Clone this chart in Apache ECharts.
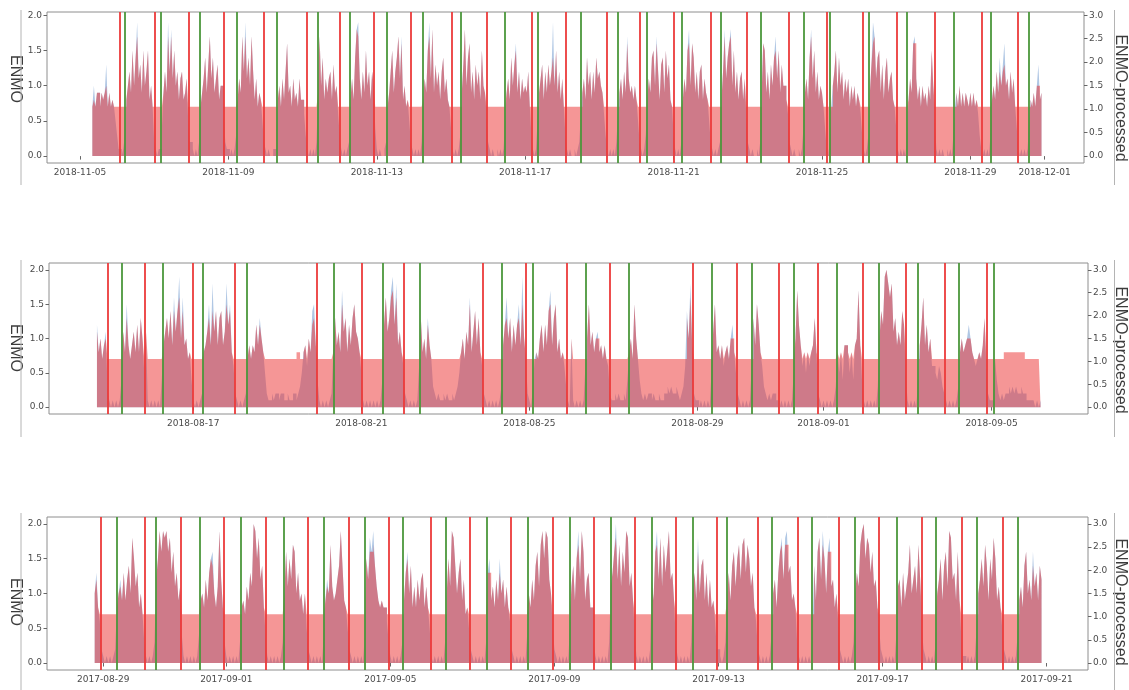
<!DOCTYPE html>
<html>
<head>
<meta charset="utf-8">
<script src="https://cdn.jsdelivr.net/npm/echarts@6/dist/echarts.min.js"></script>
<style>
  html, body { margin: 0; padding: 0; background: #ffffff; }
  #chart { width: 1129px; height: 690px; }
</style>
</head>
<body>
<div id="chart"></div>
<script>
// Hourly activity levels, one string per calendar day (24 hours, grouped by 6).
// Each character is a level index into LEVELS; '.' means no recording.
// ENMO levels are 0.1 g apart, ENMO-processed levels are 0.15 apart.
const LEVELS = '0123456789ABCDEFGHIJKLMNOPQRSTU';
const ENMO_STEP = 0.1;
const PROC_STEP = 0.15;

// ---- Recording 1: 2018-11-05 .. 2018-11-30 ----
const enmoNov2018 = [
  '...... ..7A79 97989D 797875', '311013 8AC9FA EJBD9F ACF8A7', '210114 9C9JCI BFAC8B C89B52',
  '210102 79BE9D HBE9BD 8AA621', '101013 8B9HCJ BEAHC8 B79852', '101001 138A7B 8CG9A7 B897B8',
  '863101 01029H AE8B9B C8D9A6', '310101 28B8EI JB8C9F AC8CA4', '101001 279CF9 CEHBH8 A78521',
  '010102 8B9FJB I9DAC8 CE9B87', '410101 39DIAE G9C8DA C8FA96', '210100 101015 9B8EAD G9C8B9',
  'A9C731 0159BD 8C9DAC JAF9C8', 'B73101 001012 69B8EA C8C9EB', 'CA9631 010102 69B8C9 HB9A8A',
  '852101 38B9EF AHC8DE 9FBD87', '310102 8B9FIA GE9C8C D8B985', '210101 28CIBE GIAF9C 8BC8B6',
  '210100 1029GF 9C8DAE HBF9DA', 'A86210 100101 49B8EI BF9C8A', '974102 7ACF9E AC8B9B 7A8A79',
  '863101 39DJHB EF9D8C E9BC87', '410101 038B9G HB8A7A 897A8F', 'A51010 100101 03797A 797987',
  '979786 310101 038A8C 9EADGA', 'B8C9B7 410101 015879 7AD89.'
];
const procNov2018 = [
  '...... ..7879 97989A 797877', '777777 8AC9FA EHBD9F ACF8A7', '777777 9C9HCH BFAC8B C89B77',
  '777777 79BE9D HBE9BD 8AA777', '777777 8B9HCH BEAHC8 B79877', '777777 778A7B 8CG9A7 B897B8',
  '877777 77779H AE8B9B C8D9A7', '777777 78B8EI HB8C9F AC8CA7', '777777 779CF9 CEHBG8 A78777',
  '777777 8B9FHB I9DAC8 CE9B87', '777777 79DIAE G9C8DA C8FA97', '777777 777777 9B8EAD F9C8B9',
  'A9C777 7779BD 8C9DAC EAF9C8', 'B77777 777777 79B8EA C8C9EB', 'CA9777 777777 79B8C9 GB9A8A',
  '877777 78B9EF AGC8DE 9FBD87', '777777 8B9FGA GE9C8C D8B987', '777777 78CHBE GHAF9C 8BC8B7',
  '777777 7779GF 9C8DAE FBF9DA', 'A87777 777777 79B8EH BF9C8A', '977777 7ACF9E AC8B9B 7A8A79',
  '877777 79DGHB EF9D8C E9BC87', '777777 778B9G GB8A7A 897A8F', 'A77777 777777 77797A 797987',
  '979787 777777 778A8C 9CACDA', 'B8C9B7 777777 777879 7AA89.'
];
const onsetNov2018 = [
  '11-06 01:54', '11-07 00:30', '11-07 22:30', '11-08 21:12', '11-09 23:00', '11-11 02:54',
  '11-12 00:12', '11-12 22:12', '11-13 22:12', '11-15 00:42', '11-15 23:18', '11-17 04:24',
  '11-18 02:24', '11-19 05:00', '11-20 02:18', '11-21 00:18', '11-22 00:18', '11-22 23:30',
  '11-24 02:42', '11-25 03:18', '11-26 02:36', '11-27 00:36', '11-28 01:12', '11-29 07:36',
  '11-30 06:54'
];
const wakeNov2018 = [
  '11-06 05:06', '11-07 04:24', '11-08 05:36', '11-09 05:36', '11-10 07:30', '11-11 10:00',
  '11-12 06:42', '11-13 06:36', '11-14 05:54', '11-15 06:30', '11-16 11:00', '11-17 08:18',
  '11-18 12:06', '11-19 12:06', '11-20 06:48', '11-21 05:30', '11-22 06:48', '11-23 08:36',
  '11-24 12:24', '11-25 05:18', '11-26 06:30', '11-27 07:06', '11-28 13:30', '11-29 13:24',
  '11-30 14:00'
];
const ticksNov2018 = ['2018-11-05', '2018-11-09', '2018-11-13', '2018-11-17', '2018-11-21',
  '2018-11-25', '2018-11-29', '2018-12-01'];

// ---- Recording 2: 2018-08-14 .. 2018-09-06 ----
const enmoAug2018 = [
  '...... ...... .....C 8A79B3', '101010 14B8F9 79B8C8 DA5B10', '101010 49BDAE 9GBEJA G9A784',
  '101012 89BF9I BE9DE9 BICF86', '210101 279798 C9DA85 211212', '212211 211221 235896 A8EF94',
  '101010 128D9B 8HBD8C 9DFBA8', '510101 010101 4CGBDH JCI9B8', '621010 1016D8 A7D973 212112',
  '121121 2358A7 B9G8BE 9D8621', '010101 0139CG AD8C9C F9JA72', '103787 AC8C9E H9DF8A 786310',
  'A10101 016AF9 B8AB89 797621', '121211 2148A7 FA7421 212212', '112112 232322 321236 EAI921',
  '101010 105BF8 979689 7AC852', '101010 16D9FC 863212 122110', '101010 15AHC9 685868 9D8210',
  '101010 138584 998584 9AH941', '010101 03AECJ KIGIBD 9B9EC5', '101010 49CG9C 8A6654 653210',
  '101013 8A89AC A87678 79D621', '127421 212232 323223 221111', '10101. ...... ...... ......'
];
const procAug2018 = [
  '...... ...... .....B 8A79A7', '777777 77B8D9 79B8C8 DA7B77', '777777 79BDAE 9EBEGA E9A787',
  '777777 89BD9E BE9DE9 BFCE87', '777777 779798 C9CA87 777777', '777777 777778 877897 A8CD97',
  '777777 778D9B 8FBD8C 9DFBA8', '777777 777777 7CGBDG HCG9B8', '777777 7777D8 A7C977 777777',
  '777777 7778A7 B9F8BE 9D8777', '777777 7779CD AD8C9C D9FA77', '777787 AC8C9E F9DF8A 787777',
  'A77777 777AF9 B8AA89 797777', '777777 7778A7 FA7777 777777', '777777 777777 777777 DAG977',
  '777777 777BF8 979789 7AA877', '777777 77D9FC 877777 777777', '777777 77AHC9 787878 9D8777',
  '777777 778787 998787 9AH977', '777777 77AECJ KIGIBD 9B9EC7', '777777 79CG9C 8A7777 777777',
  '777777 8A89AA A87778 79D777', '777777 788888 888888 877777', '77777. ...... ...... ......'
];
const onsetAug2018 = [
  '08-14 22:54', '08-15 20:24', '08-16 23:42', '08-17 23:48', '08-19 22:30', '08-21 00:12',
  '08-22 00:30', '08-23 21:36', '08-24 21:54', '08-25 21:18', '08-26 22:00', '08-28 21:36',
  '08-29 22:24', '08-30 22:12', '08-31 20:42', '09-01 22:24', '09-02 22:54', '09-03 21:00',
  '09-04 21:12'
];
const wakeAug2018 = [
  '08-15 07:06', '08-16 06:18', '08-17 05:42', '08-18 06:48', '08-20 08:00', '08-21 12:30',
  '08-22 09:06', '08-24 08:30', '08-25 02:12', '08-26 08:18', '08-27 08:30', '08-29 08:06',
  '08-30 07:00', '08-31 07:06', '09-01 07:30', '09-02 07:18', '09-03 06:06', '09-04 05:24',
  '09-05 01:24'
];
const ticksAug2018 = ['2018-08-17', '2018-08-21', '2018-08-25', '2018-08-29', '2018-09-01', '2018-09-05'];

// ---- Recording 3: 2017-08-28 .. 2017-09-20 ----
const enmoAug2017 = [
  '...... ...... ...... .AD862', '101010 128AC9 D9CEAI FBD8A7', '310101 3CFJGJ IJGIDG BD9B41',
  '010101 0149A8 C9DFGA 8BJC83', '101010 103897 B9DBKJ FICE84', '101010 1013AG BFCHGA D9A7A5',
  '210101 01049C AHB9AC EJE985', '210101 0104FC IGJEB9 898863', '101010 139DGA E8B8C9 CD8B85',
  '101010 103AFB JIEADF 9C7852', '101010 103DF9 B8C9FA C8B862', '101010 104A8C 9EGBHJ FJICA5',
  '210101 0105BE 9FJCJG 9CD883', '101010 103BDG KCHBGD JIBD94', '101010 102C9G JCIBHD GJCD93',
  '101010 103AD9 IAEF9D 8C8962', '210139 D9EGBF HCHIDH FBD862', '101010 14AC8D GICIJD E9A831',
  '010101 05E9GI CJFAGI BC8A62', '101010 13ADBH JKFIHD GBC852', '101010 104BC8 D9BDHA CEAHC5',
  '210101 03ACF9 EGBJIC D9G941', '101010 15ACFB HE9FCI F9B852', '101010 149B8E GAC9GB D9EC..'
];
const procAug2017 = [
  '...... ...... ...... .AC877', '777777 778AB9 D9CEAI FBD8A7', '777777 7CFJGJ IJGIDG BD9B77',
  '777777 7779A8 C9DFEA 8BJC87', '777777 777897 B9DBKJ FICE87', '777777 7777AG BFCHGA D9A7A7',
  '777777 77779B AHB9AC EJE987', '777777 7777FC GGHEB9 898877', '777777 779DFA E8B8C9 CD8B87',
  '777777 777AFB JIEADF 9C7877', '777777 777DD9 B8C9DA C8B877', '777777 777A8C 9EGBHJ FJICA7',
  '777777 7777BE 9FHCJG 9CD887', '777777 777BDG ICHBGD JIBD97', '777777 777C9G HCIBHD GJCD97',
  '777777 777AD9 GAEF9D 8C8977', '777779 D9EGBF HCHIDH FBD877', '777777 77AC8D GHCHHD E9A877',
  '777777 77E9GI CHFAGG BC8A77', '777777 77ADBH JKFIHD GBC877', '777777 777BC8 D9BDHA CEAHC7',
  '777777 77ACF9 EGBJIC D9G977', '777777 77ACFB HE9FCI F9B877', '777777 779B8E GAC9EB D9EC..'
];
const onsetAug2017 = [
  '08-28 22:30', '08-30 00:24', '08-30 21:30', '08-31 22:36', '09-01 23:00', '09-02 23:24',
  '09-03 23:48', '09-04 23:18', '09-05 23:42', '09-06 22:36', '09-07 22:30', '09-08 23:18',
  '09-09 23:06', '09-10 23:06', '09-11 23:06', '09-12 22:54', '09-13 22:42', '09-14 22:06',
  '09-15 22:30', '09-16 22:00', '09-17 22:48', '09-18 22:18', '09-19 22:12'
];
const wakeAug2017 = [
  '08-29 07:48', '08-30 06:42', '08-31 08:36', '09-01 08:24', '09-02 09:42', '09-03 09:06',
  '09-04 09:06', '09-05 07:30', '09-06 08:30', '09-07 08:18', '09-08 08:18', '09-09 09:06',
  '09-10 08:54', '09-11 08:54', '09-12 08:54', '09-13 04:48', '09-14 07:06', '09-15 06:48',
  '09-16 07:48', '09-17 08:12', '09-18 07:12', '09-19 07:00', '09-20 07:00'
];
const ticksAug2017 = ['2017-08-29', '2017-09-01', '2017-09-05', '2017-09-09', '2017-09-13',
  '2017-09-17', '2017-09-21'];

const leftAxisTicks = [0, 0.5, 1.0, 1.5, 2.0];
const rightAxisTicks = [0, 0.5, 1.0, 1.5, 2.0, 2.5, 3.0];

// ---------- helpers ----------
const stamp = (y, mo, d, h = 0, mi = 0) => new Date(y, mo - 1, d, h, mi).getTime();
const parseDay = s => { const [y, m, d] = s.split('-').map(Number); return stamp(y, m, d); };
const parseEvent = (year, s) => {
  const [md, hm] = s.split(' ');
  const [m, d] = md.split('-').map(Number);
  const [h, mi] = hm.split(':').map(Number);
  return stamp(year, m, d, h, mi);
};
function expand(days, y, m, d, step) {
  const out = [];
  days.forEach((row, di) => {
    const s = row.replace(/ /g, '');
    for (let i = 0; i < s.length; i++) {
      if (s[i] === '.') continue;
      out.push([stamp(y, m, d + di, i), +(LEVELS.indexOf(s[i]) * step).toFixed(3)]);
    }
  });
  return out;
}
const pad = n => String(n).padStart(2, '0');
const fmtDate = v => { const t = new Date(v); return t.getFullYear() + '-' + pad(t.getMonth() + 1) + '-' + pad(t.getDate()); };

const recordings = [
  { start: [2018, 11, 5], year: 2018, enmo: enmoNov2018, proc: procNov2018, onset: onsetNov2018, wake: wakeNov2018, ticks: ticksNov2018 },
  { start: [2018, 8, 14], year: 2018, enmo: enmoAug2018, proc: procAug2018, onset: onsetAug2018, wake: wakeAug2018, ticks: ticksAug2018 },
  { start: [2017, 8, 28], year: 2017, enmo: enmoAug2017, proc: procAug2017, onset: onsetAug2017, wake: wakeAug2017, ticks: ticksAug2017 }
];

// panel layout (pixels) and axis extents
const layout = [
  { grid: { left: 47, top: 12, width: 1037, height: 151 }, x: [stamp(2018, 11, 4, 2, 40), stamp(2018, 12, 2, 1, 30)],
    y: [-0.098, 2.045], leftY: 79, rightY: 98, edge: [10, 185] },
  { grid: { left: 49, top: 263, width: 1039, height: 151 }, x: [stamp(2018, 8, 13, 13, 36), stamp(2018, 9, 7, 7, 6)],
    y: [-0.1, 2.1], leftY: 348, rightY: 350, edge: [260, 437] },
  { grid: { left: 47, top: 517, width: 1041, height: 153 }, x: [stamp(2017, 8, 27, 15, 6), stamp(2017, 9, 22, 0, 12)],
    y: [-0.1, 2.1], leftY: 602, rightY: 602, edge: [513, 690] }
];

const BLUE = 'rgb(80,130,195)';
const RED = 'rgb(235,45,45)';
const ONSET = '#ec3a3a';
const WAKE = '#4b973b';
const TICK_FONT = { fontFamily: 'DejaVu Sans', fontSize: 9, color: '#4a4a4a' };

const grids = [], xAxes = [], yAxes = [], series = [], graphics = [];

recordings.forEach((rec, i) => {
  const L = layout[i];
  grids.push(Object.assign({ show: true, borderColor: '#8e8e8e', borderWidth: 1, backgroundColor: 'transparent' }, L.grid));
  const tickVals = rec.ticks.map(parseDay);
  // dates are plotted on a linear millisecond scale
  xAxes.push({
    gridIndex: i, type: 'value', min: L.x[0], max: L.x[1], scale: true,
    splitLine: { show: false }, axisLine: { show: false },
    axisTick: { show: true, length: 3.5, customValues: tickVals, lineStyle: { color: '#666' } },
    axisLabel: Object.assign({ customValues: tickVals, formatter: fmtDate, margin: 5, hideOverlap: false }, TICK_FONT)
  });
  yAxes.push({
    gridIndex: i, type: 'value', position: 'left', min: L.y[0], max: L.y[1],
    splitLine: { show: false }, axisLine: { show: false },
    axisTick: { show: true, length: 3.5, customValues: leftAxisTicks, lineStyle: { color: '#666' } },
    axisLabel: Object.assign({ customValues: leftAxisTicks, formatter: v => v.toFixed(1), margin: 5 }, TICK_FONT)
  });
  yAxes.push({
    gridIndex: i, type: 'value', position: 'right', min: L.y[0] * 1.5, max: L.y[1] * 1.5,
    splitLine: { show: false }, axisLine: { show: false },
    axisTick: { show: true, length: 3.5, customValues: rightAxisTicks, lineStyle: { color: '#666' } },
    axisLabel: Object.assign({ customValues: rightAxisTicks, formatter: v => v.toFixed(1), margin: 5 }, TICK_FONT)
  });

  const [y0, m0, d0] = rec.start;
  series.push({
    name: 'ENMO', type: 'line', xAxisIndex: i, yAxisIndex: 2 * i,
    data: expand(rec.enmo, y0, m0, d0, ENMO_STEP),
    step: 'end', symbol: 'none', showSymbol: false, silent: true, animation: false,
    lineStyle: { width: 0, opacity: 0 },
    areaStyle: { color: BLUE, opacity: 0.45, origin: 'auto' }
  });
  series.push({
    name: 'ENMO-processed', type: 'line', xAxisIndex: i, yAxisIndex: 2 * i + 1,
    data: expand(rec.proc, y0, m0, d0, PROC_STEP),
    step: 'end', symbol: 'none', showSymbol: false, silent: true, animation: false,
    lineStyle: { width: 0, opacity: 0 },
    areaStyle: { color: RED, opacity: 0.5, origin: 'auto' },
    markLine: {
      silent: true, animation: false, symbol: ['none', 'none'], label: { show: false },
      lineStyle: { width: 1.8, type: 'solid' },
      emphasis: { disabled: true },
      data: [
        ...rec.onset.map(s => ({ xAxis: parseEvent(rec.year, s), lineStyle: { color: ONSET, width: 1.8, type: 'solid' } })),
        ...rec.wake.map(s => ({ xAxis: parseEvent(rec.year, s), lineStyle: { color: WAKE, width: 1.8, type: 'solid' } }))
      ]
    }
  });

  // axis titles, both read top-to-bottom
  graphics.push({
    type: 'text', x: 15, y: L.leftY, rotation: -Math.PI / 2, silent: true,
    style: { text: 'ENMO', fontFamily: 'Liberation Sans', fontSize: 16, fill: '#3c3c3c', align: 'center', verticalAlign: 'middle' }
  });
  graphics.push({
    type: 'text', x: 1120, y: L.rightY, rotation: -Math.PI / 2, silent: true,
    style: { text: 'ENMO-processed', fontFamily: 'Liberation Sans', fontSize: 16, fill: '#3c3c3c', align: 'center', verticalAlign: 'middle' }
  });
  // thin page-edge rules beside each panel
  graphics.push({ type: 'line', silent: true, shape: { x1: 21, y1: L.edge[0], x2: 21, y2: L.edge[1] }, style: { stroke: '#b4b4b4', lineWidth: 1 } });
  graphics.push({ type: 'line', silent: true, shape: { x1: 1114.5, y1: L.edge[0], x2: 1114.5, y2: L.edge[1] }, style: { stroke: '#b4b4b4', lineWidth: 1 } });
});

const chart = echarts.init(document.getElementById('chart'), null, { renderer: 'canvas' });
chart.setOption({
  animation: false,
  backgroundColor: '#ffffff',
  grid: grids,
  xAxis: xAxes,
  yAxis: yAxes,
  series: series,
  graphic: graphics
});
</script>
</body>
</html>
